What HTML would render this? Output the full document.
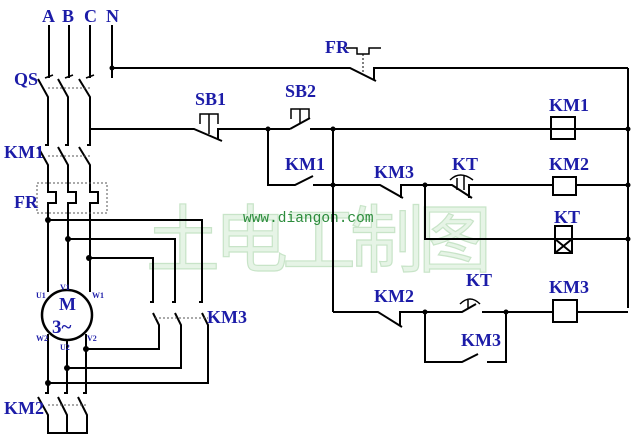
<!DOCTYPE html>
<html><head><meta charset="utf-8"><style>
html,body{margin:0;padding:0;background:#fff}
svg{display:block}
.l{font-family:"Liberation Serif",serif;font-weight:bold;fill:#1c1ca8}
.s{font-family:"Liberation Serif",serif;font-weight:bold;fill:#1c1ca8;font-size:8px}
</style></head><body>
<svg width="640" height="440" viewBox="0 0 640 440" xmlns="http://www.w3.org/2000/svg">
<!-- watermark -->
<text x="146" y="266" font-family="'Noto Sans CJK SC',sans-serif" font-size="74" fill="#e6f4e6" stroke="#c8e4c8" stroke-width="1.2" letter-spacing="-6">土电工制图</text>
<text x="243" y="222" font-family="'Liberation Mono',monospace" font-size="14.5" fill="#2c8c3c">www.diangon.com</text>

<g stroke="#000" stroke-width="2" fill="none">
<path d="M49 25V78M69 25V78M90 25V78M112 25V78"/>
<path d="M38 79L48 97V145M58 79L68 97V145M79 79L90 97V145"/>
<path d="M112 68H350L376 81M374 80V68H628"/>
<path stroke-width="1.5" d="M346 48H357V54H369V48H381"/>
<path stroke-width="1" stroke-dasharray="2,2" d="M363 54V74"/>
<path d="M38 147L48 165V185M58 147L68 165V185M79 147L90 165V185"/>
<path d="M48 185V192H56V203H48V292M68 185V192H76V203H68V290M90 185V192H98V203H90V292"/>
<path d="M90 129H194L222 141M218 139V129H290M290 129L310 118M310 129H628"/>
<path d="M628 68V308"/>
<path stroke-width="1.5" d="M200 124V114H218V124M209 114V134"/>
<path stroke-width="1.5" d="M291 119V109H309V119M300 109V124"/>
<path d="M268 129V185H295L313 176M313 185H380L403 198M401 198V185H425"/>
<path d="M333 129V312"/>
<path d="M425 185H452L472 198M469 198V185H553M576 185H628"/>
<path stroke-width="1.5" d="M450 180Q460 170 473 180M457 178V190M464 176V190"/>
<rect x="553" y="177" width="23" height="18"/>
<rect x="551" y="117" width="24" height="22"/>
<path d="M425 185V239H555M572 239H628"/>
<rect x="555" y="226" width="17" height="27"/>
<path d="M555 239H572M555 239L572 253M572 239L555 253"/>
<path d="M333 312H378L402 327M400 326V312H462L476 304M482 312H553M577 312H628"/>
<path stroke-width="1.5" d="M460 304Q470 294 480 304M468 300V308"/>
<rect x="553" y="300" width="24" height="22"/>
<path d="M425 312V362H462L478 354M487 362H506V312"/>
<!-- motor connections -->
<path d="M48 220H202V302M202 313L208 325V383H48"/>
<path d="M68 239H175V302M175 313L181 325V368H67"/>
<path d="M89 258H153V302M153 313L159 325V349H86"/>
<circle cx="67" cy="315" r="25" stroke-width="2.5"/>
<path d="M48 334V393M67 340V393M86 334V393"/>
<path d="M38 397L48 415V433M58 397L67 415V433M78 397L87 415V433M47 433H88"/>
<path d="M45 145h3v-5M65 145h3v-5M87 145h3v-5"/>
<path d="M45 393h3v-5M64 393h3v-5M83 393h3v-5"/>
<path d="M150 302h3v-5M172 302h3v-5M199 302h3v-5"/>
<path d="M45 78l8-3M65 78l8-3M86 78l8-3" stroke-width="1.5"/>
</g>
<g stroke="#555" stroke-width="1" stroke-dasharray="2,2" fill="none">
<path d="M48 88H90M48 156H90M48 405H87M155 318H208"/>
<rect x="37" y="183" width="70" height="30"/>
</g>
<g fill="#000">
<circle cx="112" cy="68" r="2.5"/><circle cx="268" cy="129" r="2.5"/><circle cx="333" cy="129" r="2.5"/>
<circle cx="333" cy="185" r="2.5"/><circle cx="425" cy="185" r="2.5"/><circle cx="628" cy="129" r="2.5"/>
<circle cx="628" cy="185" r="2.5"/><circle cx="628" cy="239" r="2.5"/><circle cx="425" cy="312" r="2.5"/>
<circle cx="506" cy="312" r="2.5"/><circle cx="48" cy="220" r="3"/><circle cx="68" cy="239" r="3"/>
<circle cx="89" cy="258" r="3"/><circle cx="86" cy="349" r="3"/><circle cx="67" cy="368" r="3"/><circle cx="48" cy="383" r="3"/>
</g>
<g class="l" font-size="18">
<text x="42" y="22">A</text><text x="62" y="22">B</text><text x="84" y="22">C</text><text x="106" y="22">N</text>
<text x="14" y="85">QS</text><text x="4" y="158">KM1</text><text x="14" y="208">FR</text>
<text x="4" y="414">KM2</text><text x="207" y="323">KM3</text>
<text x="325" y="53">FR</text><text x="195" y="105">SB1</text><text x="285" y="97">SB2</text>
<text x="285" y="170">KM1</text><text x="374" y="178">KM3</text><text x="452" y="170">KT</text>
<text x="549" y="111">KM1</text><text x="549" y="170">KM2</text><text x="554" y="223">KT</text>
<text x="374" y="302">KM2</text><text x="466" y="286">KT</text><text x="549" y="293">KM3</text>
<text x="461" y="346">KM3</text>
<text x="59" y="310" font-size="18">M</text><text x="52" y="333" font-size="19">3~</text>
</g>
<g class="s">
<text x="36" y="298">U1</text><text x="60" y="290">V1</text><text x="92" y="298">W1</text>
<text x="36" y="341">W2</text><text x="60" y="350">U2</text><text x="87" y="341">V2</text>
</g>
</svg>
</body></html>
